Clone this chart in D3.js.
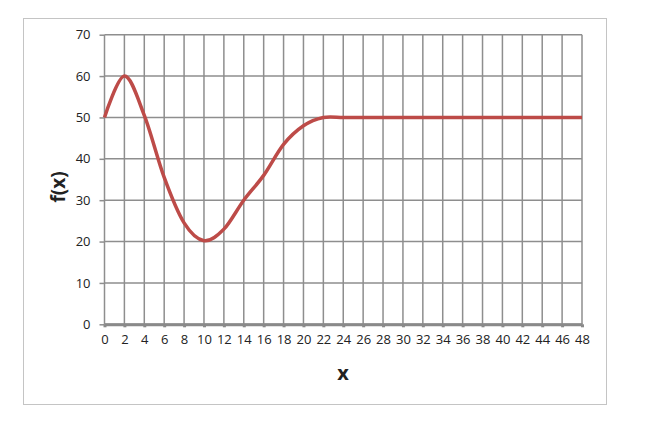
<!DOCTYPE html>
<html>
<head>
<meta charset="utf-8">
<script src="https://cdn.jsdelivr.net/npm/d3@7"></script>
<style>
  body { margin: 0; background: #fff; }
  text { font-family: "Open Sans", Lato, sans-serif; fill: #222; }
</style>
</head>
<body>
<svg width="650" height="429"></svg>
<script>
// values, one point every 2 units of x
var xValues = [0, 2, 4, 6, 8, 10, 12, 14, 16, 18, 20, 22, 24,
               26, 28, 30, 32, 34, 36, 38, 40, 42, 44, 46, 48];
var fValues = [50, 60, 50.5, 35.5, 24.5, 20.2, 23, 30, 36, 43.5, 48, 50, 50,
               50, 50, 50, 50, 50, 50, 50, 50, 50, 50, 50, 50];
var xTicks = d3.range(0, 49, 2);
var yTicks = [0, 10, 20, 30, 40, 50, 60, 70];

var svg = d3.select('svg');
var svgWidth = +svg.attr('width');
var svgHeight = +svg.attr('height');

var padding = {t: 34.7, r: 68, b: 104.7, l: 104.5};
var chartWidth = svgWidth - padding.l - padding.r;
var chartHeight = svgHeight - padding.t - padding.b;

// outer chart border
svg.append('rect')
    .attr('x', 23.5)
    .attr('y', 18.5)
    .attr('width', 583)
    .attr('height', 386)
    .attr('fill', 'none')
    .attr('stroke', '#c4c4c4')
    .attr('stroke-width', 1);

var chartG = svg.append('g')
    .attr('transform', 'translate(' + [padding.l, padding.t] + ')');

var xScale = d3.scaleLinear().domain([0, 48]).range([0, chartWidth]);
var yScale = d3.scaleLinear().domain([0, 70]).range([chartHeight, 0]);

// grid
chartG.selectAll('.vgrid')
    .data(xTicks)
    .enter().append('line')
    .attr('class', 'vgrid')
    .attr('x1', function(d) { return xScale(d); })
    .attr('x2', function(d) { return xScale(d); })
    .attr('y1', 0)
    .attr('y2', chartHeight)
    .attr('stroke', '#8e8e8e')
    .attr('stroke-width', 1.5);

chartG.selectAll('.hgrid')
    .data(yTicks)
    .enter().append('line')
    .attr('class', 'hgrid')
    .attr('x1', 0)
    .attr('x2', chartWidth)
    .attr('y1', function(d) { return yScale(d); })
    .attr('y2', function(d) { return yScale(d); })
    .attr('stroke', '#8e8e8e')
    .attr('stroke-width', 1.5);

// y axis
var yAxis = d3.axisLeft(yScale).tickValues(yTicks).tickSize(5).tickPadding(9);
var yAxisG = chartG.append('g').call(yAxis);
yAxisG.select('.domain').remove();
yAxisG.selectAll('line').attr('stroke', '#8e8e8e').attr('stroke-width', 1.5);
yAxisG.selectAll('text').style('font-size', '13px').style('font-family', '"Open Sans", sans-serif').attr('fill', '#1a1a1a');

// x axis
var xAxis = d3.axisBottom(xScale).tickValues(xTicks).tickSize(3).tickSizeOuter(0).tickPadding(7);
var xAxisG = chartG.append('g')
    .attr('transform', 'translate(0,' + chartHeight + ')')
    .call(xAxis);
xAxisG.select('.domain').attr('stroke', '#8a8a8a').attr('stroke-width', 3);
xAxisG.selectAll('line').attr('stroke', '#8a8a8a').attr('stroke-width', 3);
xAxisG.selectAll('text').style('font-size', '13px').style('font-family', '"Open Sans", sans-serif').attr('fill', '#1a1a1a');

// curve
var line = d3.line()
    .x(function(d) { return xScale(d[0]); })
    .y(function(d) { return yScale(d[1]); })
    .curve(d3.curveCardinal.tension(0));

chartG.append('path')
    .datum(d3.zip(xValues, fValues))
    .attr('d', line)
    .attr('fill', 'none')
    .attr('stroke', '#bd4b48')
    .attr('stroke-width', 3.5)
    .attr('stroke-linejoin', 'round');

// axis titles
svg.append('text')
    .attr('x', 343)
    .attr('y', 380)
    .attr('text-anchor', 'middle')
    .style('font-size', '20px')
    .style('font-weight', 'bold')
    .text('x');

svg.append('text')
    .attr('transform', 'translate(65,187) rotate(-90)')
    .attr('text-anchor', 'middle')
    .style('font-size', '19px')
    .style('font-weight', 'bold')
    .text('f(x)');
</script>
</body>
</html>
